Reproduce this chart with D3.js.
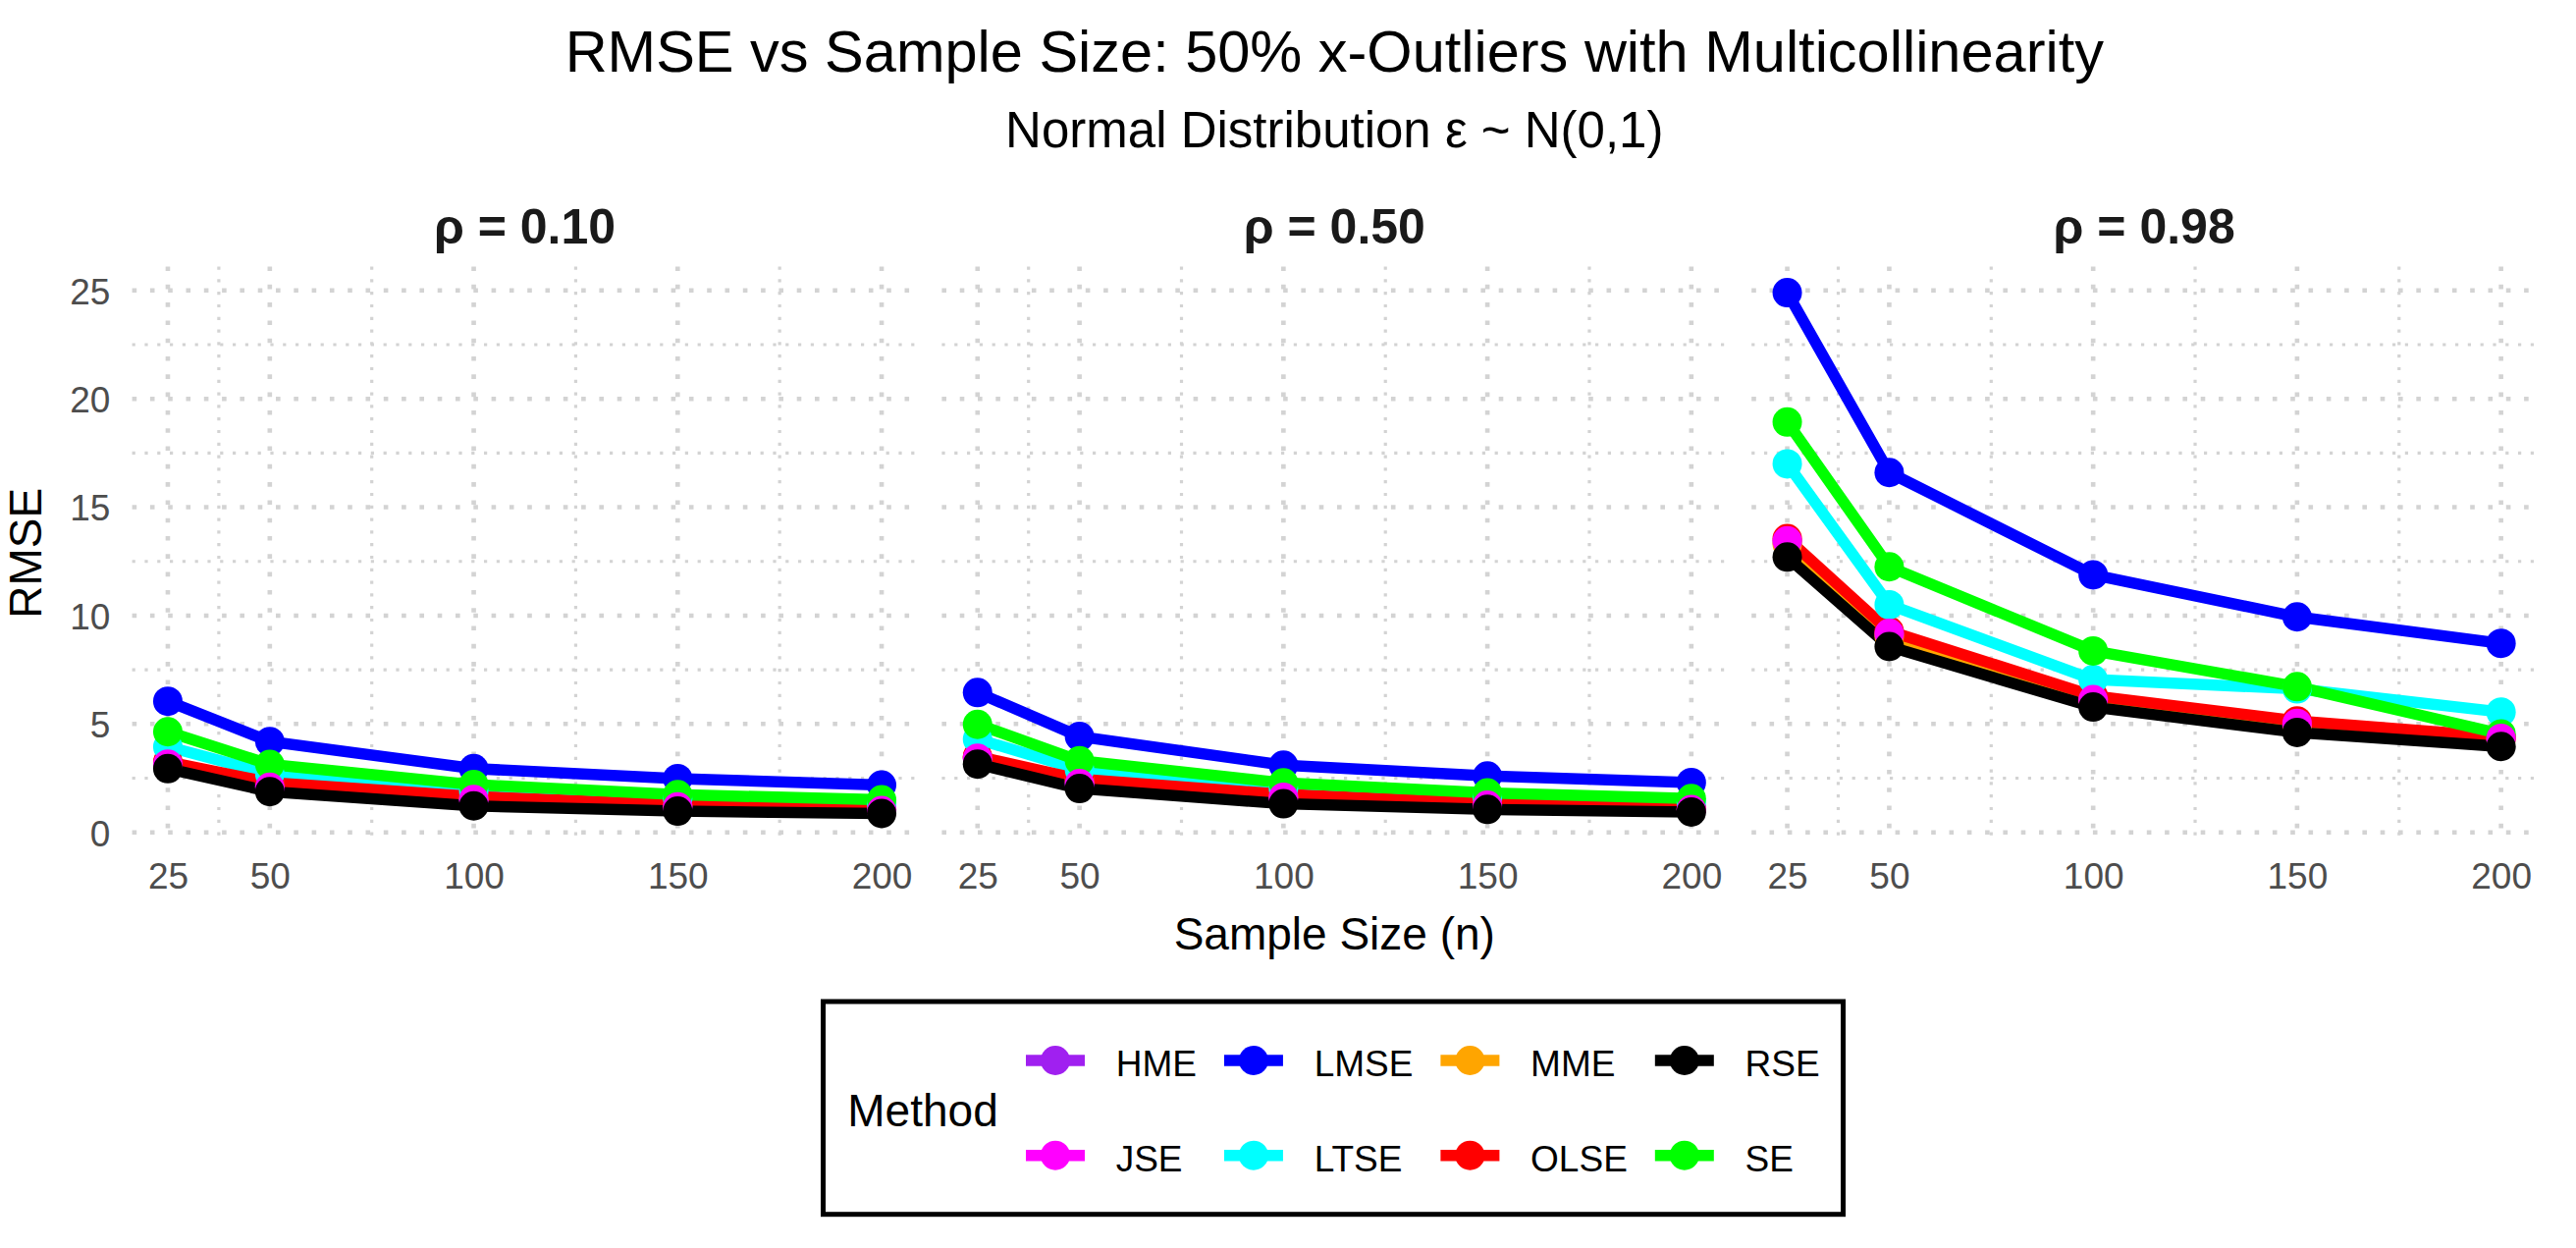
<!DOCTYPE html>
<html>
<head>
<meta charset="utf-8">
<script src="https://cdn.jsdelivr.net/npm/d3@7"></script>
<style>
  html, body { margin: 0; padding: 0; background: #ffffff; }
  svg { display: block; font-family: "Liberation Sans", Arial, Helvetica, sans-serif; }
</style>
</head>
<body>
<svg id="chart" width="2624" height="1271"></svg>
<script>
// ---------------- Data ----------------
const sampleSizes = [25, 50, 100, 150, 200];
const xMinorTicks = [37.5, 75, 125, 175];
const yTicks = [0, 5, 10, 15, 20, 25];
const yMinorTicks = [2.5, 7.5, 12.5, 17.5, 22.5];
const panelLabels = ["ρ = 0.10", "ρ = 0.50", "ρ = 0.98"];
const methods = ["HME", "JSE", "LMSE", "LTSE", "MME", "OLSE", "RSE", "SE"];
const methodColors = ["#A020F0", "#FF00FF", "#0000FF", "#00FFFF", "#FFA500", "#FF0000", "#000000", "#00FF00"];
const pointDrawOrder = ["HME", "MME", "OLSE", "LMSE", "LTSE", "SE", "JSE", "RSE"];

// RMSE per panel (rho = 0.10, 0.50, 0.98), values at n = 25, 50, 100, 150, 200
const rho010_HME  = [3.18, 2.12, 1.55, 1.20, 1.01];
const rho010_JSE  = [3.15, 2.08, 1.52, 1.18, 1.00];
const rho010_LMSE = [6.05, 4.19, 2.94, 2.48, 2.18];
const rho010_LTSE = [3.95, 2.70, 1.90, 1.55, 1.32];
const rho010_MME  = [3.20, 2.25, 1.60, 1.24, 1.04];
const rho010_OLSE = [3.25, 2.30, 1.65, 1.27, 1.06];
const rho010_RSE  = [2.94, 1.88, 1.22, 0.98, 0.87];
const rho010_SE   = [4.64, 3.13, 2.20, 1.74, 1.50];

const rho050_HME  = [3.44, 2.28, 1.65, 1.27, 1.06];
const rho050_JSE  = [3.42, 2.25, 1.62, 1.25, 1.05];
const rho050_LMSE = [6.45, 4.42, 3.10, 2.60, 2.30];
const rho050_LTSE = [4.30, 2.90, 2.02, 1.63, 1.38];
const rho050_MME  = [3.45, 2.40, 1.70, 1.30, 1.08];
const rho050_OLSE = [3.50, 2.45, 1.75, 1.34, 1.10];
const rho050_RSE  = [3.15, 2.02, 1.32, 1.06, 0.94];
const rho050_SE   = [4.98, 3.30, 2.28, 1.82, 1.56];

const rho098_HME  = [13.40, 9.15, 6.15, 5.00, 4.33];
const rho098_JSE  = [13.45, 9.18, 6.12, 5.03, 4.34];
const rho098_LMSE = [24.90, 16.60, 11.88, 9.94, 8.72];
const rho098_LTSE = [17.00, 10.50, 7.05, 6.62, 5.55];
const rho098_MME  = [13.30, 9.05, 6.15, 4.95, 4.30];
const rho098_OLSE = [13.55, 9.28, 6.30, 5.14, 4.40];
const rho098_RSE  = [12.70, 8.57, 5.78, 4.61, 3.96];
const rho098_SE   = [18.93, 12.25, 8.37, 6.72, 4.54];

const panelSeries = [
  {HME: rho010_HME, JSE: rho010_JSE, LMSE: rho010_LMSE, LTSE: rho010_LTSE, MME: rho010_MME, OLSE: rho010_OLSE, RSE: rho010_RSE, SE: rho010_SE},
  {HME: rho050_HME, JSE: rho050_JSE, LMSE: rho050_LMSE, LTSE: rho050_LTSE, MME: rho050_MME, OLSE: rho050_OLSE, RSE: rho050_RSE, SE: rho050_SE},
  {HME: rho098_HME, JSE: rho098_JSE, LMSE: rho098_LMSE, LTSE: rho098_LTSE, MME: rho098_MME, OLSE: rho098_OLSE, RSE: rho098_RSE, SE: rho098_SE}
];

const titleText = "RMSE vs Sample Size: 50% x-Outliers with Multicollinearity";
const subtitleText = "Normal Distribution ε ~ N(0,1)";
const xTitle = "Sample Size (n)";
const yTitle = "RMSE";
const legendTitle = "Method";

// ---------------- Layout ----------------
const svg = d3.select("#chart");
const color = d3.scaleOrdinal().domain(methods).range(methodColors);

const panelLeft0 = 134.6, panelW = 799.8, panelGap = 25;
const panelTop = 271.5, panelBottom = 855;
const lineW = 11.5, pointR = 15;
const gridColor = "#d3d3d3";
const tickColor = "#4d4d4d";

// shared y (fixed scales), ggplot-like 5% expansion
const allVals = panelSeries.flatMap(p => methods.flatMap(m => p[m]));
const yMin = d3.min(allVals), yMax = d3.max(allVals);
const yPad = (yMax - yMin) * 0.05;
const y = d3.scaleLinear().domain([yMin - yPad, yMax + yPad]).range([panelBottom, panelTop]);

const xExtent = d3.extent(sampleSizes);
const xPad = (xExtent[1] - xExtent[0]) * 0.05;

// Titles
const cx = panelLeft0 + (3 * panelW + 2 * panelGap) / 2;
svg.append("text").attr("x", cx).attr("y", 73.3).attr("text-anchor", "middle")
  .attr("font-size", 59.5).attr("fill", "#000").text(titleText);
svg.append("text").attr("x", cx).attr("y", 150).attr("text-anchor", "middle")
  .attr("font-size", 51).attr("fill", "#000").text(subtitleText);

panelSeries.forEach((series, pi) => {
  const left = panelLeft0 + pi * (panelW + panelGap);
  const x = d3.scaleLinear().domain([xExtent[0] - xPad, xExtent[1] + xPad]).range([left, left + panelW]);
  const g = svg.append("g");

  // minor grid
  g.selectAll(".hmin").data(yMinorTicks.filter(v => y(v) >= panelTop && y(v) <= panelBottom)).join("line")
    .attr("x1", left).attr("x2", left + panelW).attr("y1", d => y(d)).attr("y2", d => y(d))
    .attr("stroke", gridColor).attr("stroke-width", 3.2).attr("stroke-dasharray", "3.2 9.6");
  g.selectAll(".vmin").data(xMinorTicks).join("line")
    .attr("x1", d => x(d)).attr("x2", d => x(d)).attr("y1", panelTop).attr("y2", panelBottom)
    .attr("stroke", gridColor).attr("stroke-width", 3.2).attr("stroke-dasharray", "3.2 9.6");
  // major grid
  g.selectAll(".hmaj").data(yTicks).join("line")
    .attr("x1", left).attr("x2", left + panelW).attr("y1", d => y(d)).attr("y2", d => y(d))
    .attr("stroke", gridColor).attr("stroke-width", 4.6).attr("stroke-dasharray", "4.6 13.7");
  g.selectAll(".vmaj").data(sampleSizes).join("line")
    .attr("x1", d => x(d)).attr("x2", d => x(d)).attr("y1", panelTop).attr("y2", panelBottom)
    .attr("stroke", gridColor).attr("stroke-width", 4.6).attr("stroke-dasharray", "4.6 13.7");

  // strip title
  svg.append("text").attr("x", left + panelW / 2).attr("y", 248.3).attr("text-anchor", "middle")
    .attr("font-size", 50).attr("font-weight", "bold").attr("fill", "#1a1a1a").text(panelLabels[pi]);

  // x axis tick labels
  const xAxis = d3.axisBottom(x).tickValues(sampleSizes).tickSize(0).tickPadding(0);
  const xa = svg.append("g").attr("transform", `translate(0, 905)`).call(xAxis);
  xa.select(".domain").remove();
  xa.selectAll("text").attr("font-size", 37).attr("fill", tickColor)
    .attr("font-family", "'Liberation Sans', Arial, sans-serif").attr("dy", 0).attr("y", 0);

  if (pi === 0) {
    const yAxis = d3.axisLeft(y).tickValues(yTicks).tickSize(0).tickPadding(0);
    const ya = svg.append("g").attr("transform", `translate(${112.3}, 0)`).call(yAxis);
    ya.select(".domain").remove();
    ya.selectAll("text").attr("font-size", 37).attr("fill", tickColor)
      .attr("font-family", "'Liberation Sans', Arial, sans-serif").attr("x", 0).attr("dy", "0.36em");
  }

  // lines (group order)
  const line = d3.line().x((d, i) => x(sampleSizes[i])).y(d => y(d));
  methods.forEach(m => {
    g.append("path").datum(series[m]).attr("d", line).attr("fill", "none")
      .attr("stroke", color(m)).attr("stroke-width", lineW)
      .attr("stroke-linejoin", "round").attr("stroke-linecap", "butt");
  });
  // points (row order)
  pointDrawOrder.forEach(m => {
    g.selectAll(null).data(series[m]).join("circle")
      .attr("cx", (d, i) => x(sampleSizes[i])).attr("cy", d => y(d)).attr("r", pointR)
      .attr("fill", color(m));
  });
});

// axis titles
svg.append("text").attr("x", cx).attr("y", 967).attr("text-anchor", "middle")
  .attr("font-size", 46).attr("fill", "#000").text(xTitle);
svg.append("text").attr("transform", `translate(41.7, ${(panelTop + panelBottom) / 2}) rotate(-90)`)
  .attr("text-anchor", "middle").attr("font-size", 46).attr("fill", "#000").text(yTitle);

// ---------------- Legend ----------------
const legG = svg.append("g");
const legBox = legG.append("rect").attr("x", 838.5).attr("y", 1020).attr("height", 216.7)
  .attr("fill", "#fff").attr("stroke", "#000").attr("stroke-width", 5);
legG.append("text").attr("x", 863.3).attr("y", 1146.7).attr("font-size", 46).attr("fill", "#000").text(legendTitle);

const rowsY = [1080, 1176.7];
const nRows = 2, nCols = Math.ceil(methods.length / nRows);
let keyLeft = 1045;
for (let c = 0; c < nCols; c++) {
  let maxW = 0;
  for (let r = 0; r < nRows; r++) {
    const m = methods[c * nRows + r];
    if (!m) continue;
    const ky = rowsY[r];
    legG.append("line").attr("x1", keyLeft).attr("x2", keyLeft + 60).attr("y1", ky).attr("y2", ky)
      .attr("stroke", color(m)).attr("stroke-width", lineW);
    legG.append("circle").attr("cx", keyLeft + 30).attr("cy", ky).attr("r", pointR).attr("fill", color(m));
    const t = legG.append("text").attr("x", keyLeft + 60 + 31.7).attr("y", ky + 16)
      .attr("font-size", 37).attr("fill", "#000").text(m);
    maxW = Math.max(maxW, t.node().getComputedTextLength());
  }
  if (c < nCols - 1) keyLeft = keyLeft + 60 + 31.7 + maxW + 28;
  else keyLeft = keyLeft + 60 + 31.7 + maxW;
}
legBox.attr("width", Math.max(1039, keyLeft + 22 - 838.5));
</script>
</body>
</html>
